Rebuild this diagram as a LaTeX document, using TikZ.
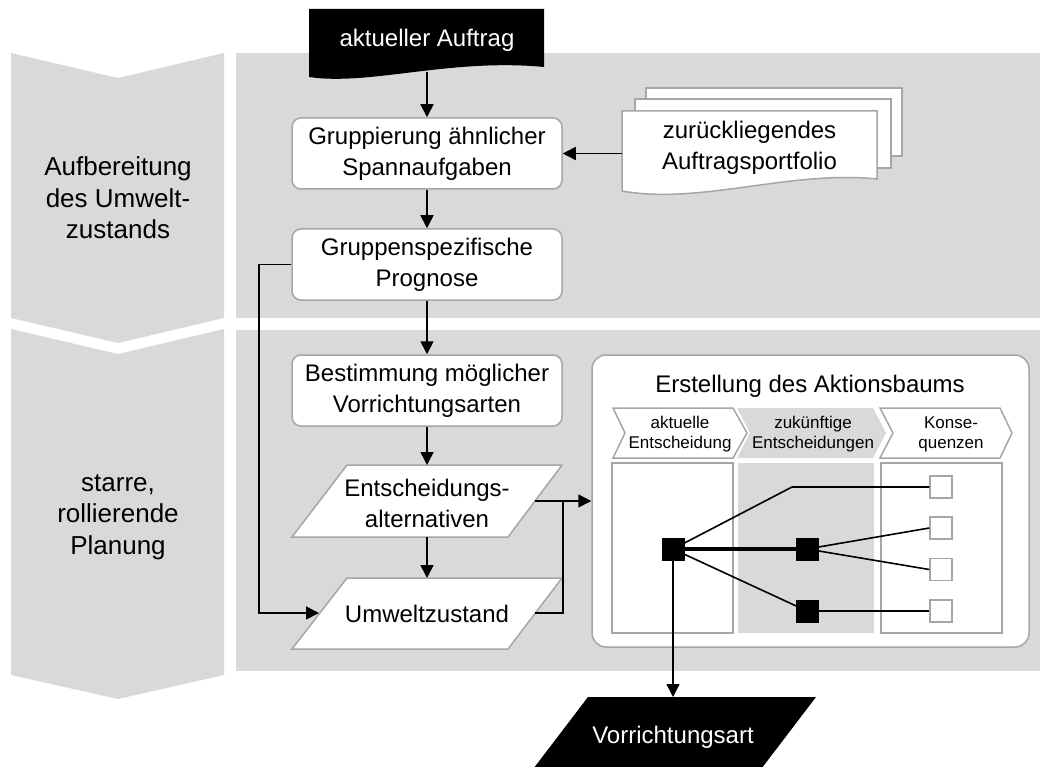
\documentclass[tikz,border=0pt]{standalone}
\usepackage{fontspec}
\setmainfont{Liberation Sans}
\usetikzlibrary{arrows.meta,calc}

\definecolor{panel}{HTML}{D9D9D9}
\definecolor{edge}{HTML}{A6A6A6}

\begin{document}
\begin{tikzpicture}[x=1pt,y=-1pt,
  txt/.style={font=\fontsize{24}{31}\selectfont, align=center, inner sep=0pt},
  sidelbl/.style={font=\fontsize{26}{31.5}\selectfont, align=center, inner sep=0pt},
  hdr/.style={font=\fontsize{17}{20}\selectfont, align=center, inner sep=0pt},
  rbox/.style={txt, draw=edge, line width=1.5pt, fill=white, rounded corners=9pt,
               minimum width=270pt, minimum height=71pt},
  shapeedge/.style={draw=edge, line width=1.5pt, fill=white},
  flow/.style={line width=1.6pt, -{Triangle[length=13pt,width=13pt]}},
  tie/.style={line width=1.6pt},
  thicktie/.style={line width=3.2pt},
  blk/.style={fill=black, minimum size=23pt, inner sep=0pt},
  wht/.style={draw=edge, line width=1.5pt, fill=white, minimum size=22pt, inner sep=0pt},
]
\useasboundingbox (0,0) rectangle (1040,767);

% phase chevrons on the left
\fill[panel] (11,53) -- (118,78) -- (224,53) -- (224,318) -- (118,343) -- (11,318) -- cycle;
\fill[panel] (11,329) -- (118,354) -- (224,329) -- (224,675) -- (118,699) -- (11,675) -- cycle;
\node[sidelbl] (phaseA) at (118,198) {Aufbereitung\\des Umwelt-\\zustands};
\node[sidelbl] (phaseB) at (118,517) {starre,\\rollierende\\Planung};

% phase panels
\fill[panel] (236,53) rectangle (1040,318);
\fill[panel] (236,330) rectangle (1040,671);

% incoming order (document shape)
\fill[black] (309,9) -- (544,9) -- (544,67) .. controls (450,58) and (370,86) .. (309,77) -- cycle;
\node[txt, text=white] (auftrag) at (427,40) {aktueller Auftrag};
\coordinate (auftragfoot) at (427,72);

% process boxes
\node[rbox] (grp)  at (427,153.5) {Gruppierung ähnlicher\\Spannaufgaben};
\node[rbox] (prog) at (427,264.5) {Gruppenspezifische\\Prognose};
\node[rbox] (best) at (427,390.5) {Bestimmung möglicher\\Vorrichtungsarten};

% portfolio (stacked documents)
\draw[shapeedge] (646,88) rectangle (902,156);
\draw[shapeedge] (635,99) rectangle (891,168);
\draw[shapeedge] (622,111) -- (877,111) -- (877,179)
  .. controls (790,170) and (700,205) .. (622,191) -- cycle;
\node[txt] (port) at (749.5,148) {zurückliegendes\\Auftragsportfolio};
\coordinate (portleft) at (622,153.5);

% data parallelograms
\draw[shapeedge] (347,465) -- (562,465) -- (508,537) -- (292,537) -- cycle;
\node[txt] (ent) at (427,503) {Entscheidungs-\\alternativen};
\draw[shapeedge] (347,578) -- (562,578) -- (508,649) -- (292,649) -- cycle;
\node[txt] (umw) at (427,614) {Umweltzustand};
\coordinate (enttop) at (427,465);
\coordinate (entbot) at (427,537);
\coordinate (umwtop) at (427,578);
\coordinate (entout) at (535,501);
\coordinate (umwout) at (535,613);
\coordinate (umwin) at (319,613);
\coordinate (join) at (563,501);

% action tree panel
\node[draw=edge, fill=white, line width=1.5pt, rounded corners=14pt,
      minimum width=437pt, minimum height=292pt, inner sep=0pt] (baum) at (810.5,501) {};
\node[txt] (baumtitle) at (810,386) {Erstellung des Aktionsbaums};

\draw[shapeedge] (613,408) -- (733,408) -- (747,433) -- (733,458) -- (613,458) -- (625,433) -- cycle;
\fill[panel] (737,408) -- (873,408) -- (886,433) -- (873,458) -- (737,458) -- (750,433) -- cycle;
\draw[shapeedge] (880,408) -- (1000,408) -- (1012,433) -- (1000,458) -- (880,458) -- (893,433) -- cycle;
\node[hdr] (hA) at (680,434) {aktuelle\\Entscheidung};
\node[hdr] (hB) at (813,434) {zukünftige\\Entscheidungen};
\node[hdr] (hC) at (951,434) {Konse-\\quenzen};

\draw[shapeedge] (612,463) rectangle (733,633);
\fill[panel] (738,463) rectangle (874,633);
\draw[shapeedge] (881,463) rectangle (1002,633);

\node[wht] (c1) at (941,487) {};
\node[wht] (c2) at (941,528) {};
\node[wht] (c3) at (941,569.5) {};
\node[wht] (c4) at (941,611) {};
\coordinate (bend) at (792,487);

\draw[tie] (673,549) -- (bend) -- (c1.west);
\draw[tie] (673,549) -- (807,611);
\draw[tie] (807,549) -- (c2.west);
\draw[tie] (807,549) -- (c3.west);
\draw[tie] (807,611) -- (c4.west);
\draw[thicktie] (673,549) -- (807,549);

\node[blk] (d0) at (673,549) {};
\node[blk] (d1) at (807,549) {};
\node[blk] (d2) at (807,611) {};

% resulting fixture type
\fill[black] (588,697) -- (816,697) -- (755,777) -- (527,777) -- cycle;
\node[txt, text=white] (vorr) at (673,737) {Vorrichtungsart};
\coordinate (vorrtop) at (673,697);

% connectors
\draw[flow] (auftragfoot) -- (grp.north);
\draw[flow] (portleft) -- (grp.east);
\draw[flow] (grp.south) -- (prog.north);
\draw[flow] (prog.south) -- (best.north);
\draw[flow] (best.south) -- (enttop);
\draw[flow] (entbot) -- (umwtop);
\draw[flow] (prog.west) -- ++(-32,0) |- (umwin);
\draw[tie] (entout) -- (join);
\draw[flow] (umwout) -| (join) -- (baum.west);
\draw[flow] (d0.south) -- (vorrtop);
\end{tikzpicture}
\end{document}
